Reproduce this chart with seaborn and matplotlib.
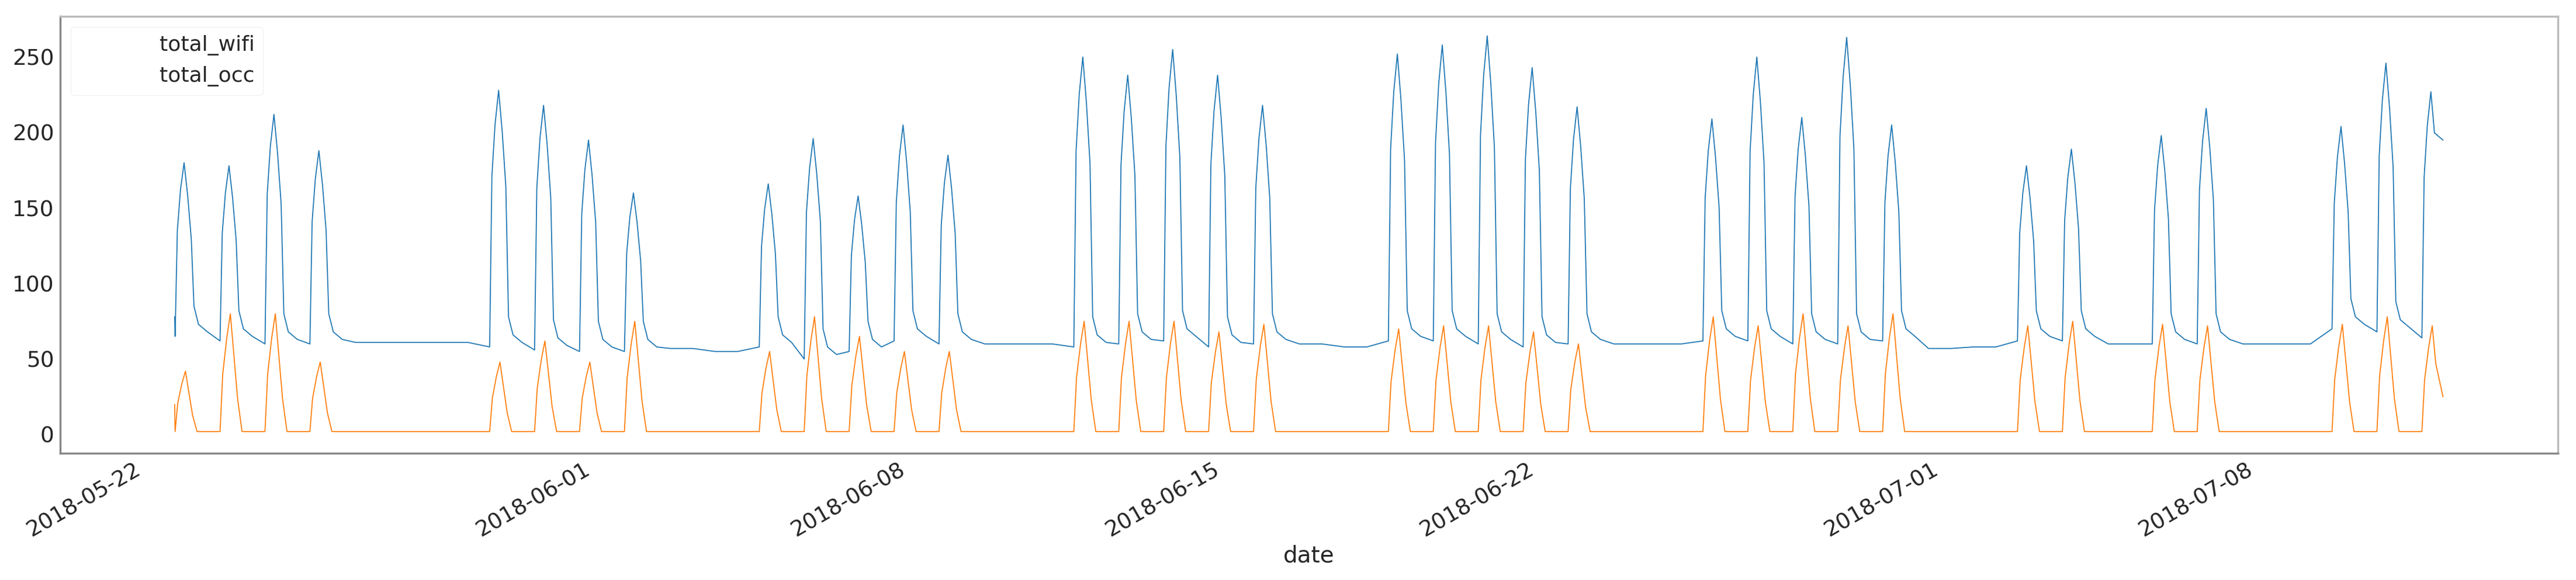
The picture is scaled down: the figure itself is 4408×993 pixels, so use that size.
import numpy as np
import pandas as pd
import matplotlib
matplotlib.use("Agg")
import matplotlib.pyplot as plt
import seaborn as sns

# ---- data ----
start_date = "2018-05-22"
work_days = [1, 2, 3, 4, 8, 9, 10, 11, 14, 15, 16, 17, 18, 21, 22, 23, 24, 25,
             28, 29, 30, 31, 32, 35, 36, 37, 38, 39, 42, 43, 45, 46, 49, 50, 51]
wifi_peak = [180, 178, 212, 188, 228, 218, 195, 160, 166, 196, 158, 205, 185,
             250, 238, 255, 238, 218, 252, 258, 264, 243, 217,
             209, 250, 210, 263, 205, 178, 189, 198, 216, 204, 246, 227]
occ_peak = [42, 80, 80, 48, 48, 62, 48, 75, 55, 78, 65, 55, 55,
            75, 75, 75, 68, 73, 70, 72, 72, 68, 60,
            78, 72, 80, 72, 80, 72, 75, 73, 72, 73, 78, 72]
base_wifi = [65, 65, 62, 60, 60, 61, 61, 61, 58, 56, 55, 55, 57, 55, 58, 50, 55,
             62, 60, 60, 60, 58, 60, 62, 58, 60, 60, 58, 62, 62, 60, 58, 60, 60,
             60, 62, 62, 60, 60, 62, 57, 58, 62, 62, 60, 60, 60, 60, 60, 70, 68,
             64, 64]
base_occ = [2] * 53
first_t, first_wifi, first_occ = 0.67, 78, 20
cut_t = 51.02
last_t, last_wifi, last_occ = 51.15, 195, 25

# ---- build knot series ----
wifi_prof = [(-0.32, None), (-0.27, 0.75), (-0.20, 0.9), (-0.12, 1.0),
             (-0.04, 0.88), (0.04, 0.72), (0.10, "b20"), (0.20, "b8"), (0.40, "b3")]
occ_prof = [(-0.32, 0), (-0.26, 0.5), (-0.17, 0.8), (-0.09, 1.0), (-0.01, 0.65),
            (0.07, 0.3), (0.17, 0)]
tw, vw, to, vo = [], [], [], []
for d in range(1, 52):
    b = base_wifi[d]
    if d in work_days:
        i = work_days.index(d)
        for off, f in wifi_prof:
            if f is None:
                v = b
            elif isinstance(f, str):
                v = b + int(f[1:])
            else:
                v = wifi_peak[i] * f
            tw.append(d + off); vw.append(v)
        for off, f in occ_prof:
            to.append(d + off); vo.append(occ_peak[i] * f + (base_occ[d] if f == 0 else 0))
    else:
        for off in (-0.3, 0.2):
            tw.append(d + off); vw.append(b)
            to.append(d + off); vo.append(base_occ[d])

def clip(t, v, first_v, last_v):
    t, v = np.array(t), np.array(v, dtype=float)
    m = (t > first_t) & (t < cut_t)
    return [first_t] + list(t[m]) + [last_t], [first_v] + list(v[m]) + [last_v]

tw, vw = clip(tw, vw, first_wifi, last_wifi)
to, vo = clip(to, vo, first_occ, last_occ)
t0 = pd.Timestamp(start_date)
df = pd.concat([
    pd.DataFrame({"date": t0 + pd.to_timedelta(tw, unit="D"), "value": vw, "series": "total_wifi"}),
    pd.DataFrame({"date": t0 + pd.to_timedelta(to, unit="D"), "value": vo, "series": "total_occ"}),
])

# ---- plot ----
sns.set_style("white")
plt.rcParams["font.family"] = ["DejaVu Sans"]
fig = plt.figure(figsize=(44.08, 9.93), dpi=100)
ax = fig.add_axes([0.0234, 0.2185, 0.9696, 0.7535])
sns.lineplot(data=df, x="date", y="value", hue="series", ax=ax, linewidth=1.3,
             palette=["#1f77b4", "#ff7f0e"], estimator=None)
ax.set_xlim(pd.Timestamp("2018-05-20 03:00"), pd.Timestamp("2018-07-14 17:00"))
ax.set_ylim(-12.4, 277)
ax.set_yticks([0, 50, 100, 150, 200, 250])
ticks = pd.to_datetime(["2018-05-22", "2018-06-01", "2018-06-08", "2018-06-15",
                        "2018-06-22", "2018-07-01", "2018-07-08"])
ax.set_xticks(ticks)
ax.set_xticklabels([t.strftime("%Y-%m-%d") for t in ticks], rotation=30, ha="right")
ax.tick_params(labelsize=27, length=4)
ax.set_xlabel("date", fontsize=28)
ax.set_ylabel("")
for name, s in ax.spines.items():
    s.set_color("#888888" if name in ("left", "bottom") else "#bbbbbb")
    s.set_linewidth(2.5)
leg = ax.legend(loc="upper left", fontsize=26, frameon=True, handlelength=3)
for h in leg.get_lines():
    h.set_linewidth(0)
leg.get_frame().set_edgecolor("#eeeeee")
leg.set_title(None)
fig.savefig("out.png", dpi=100)
